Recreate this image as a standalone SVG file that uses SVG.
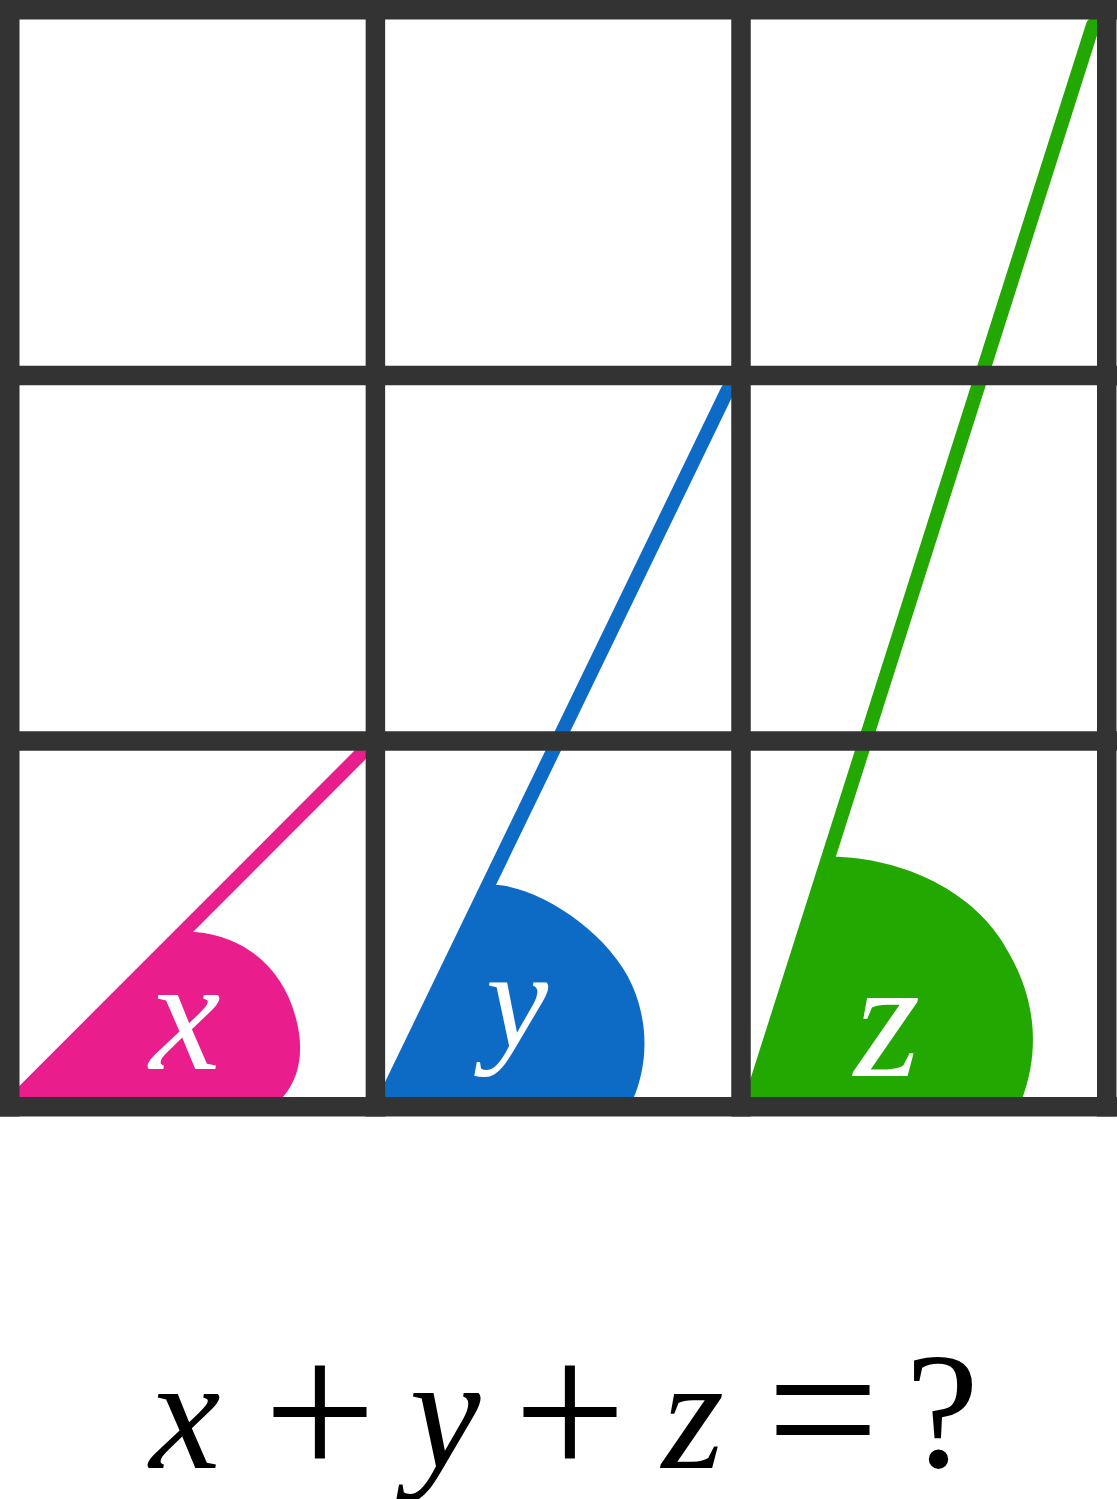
<svg xmlns="http://www.w3.org/2000/svg" width="1117" height="1499" viewBox="0 0 1117 1499">
<style>
.grid line{stroke:#333333;stroke-width:19.5;stroke-linecap:butt}
.conn line{stroke-width:14;stroke-linecap:round}
.lbl{fill:#ffffff;text-anchor:middle}
.eq{fill:#000000;text-anchor:middle}
</style>
<rect width="1117" height="1499" fill="#ffffff"/>
<g id="node-x">
<path d="M183.2,932 L195,932 C252,937 284,975 295,1015 C305,1048 300,1078 283,1097 L281,1100 L15.2,1100 Z" fill="#e91e8c"/>
<text class="lbl" x="185" y="1069" font-size="160" font-family="Liberation Serif, Times New Roman, serif" font-style="italic">x</text>
</g>
<g id="node-y">
<path d="M483.3,885 L499,885 C545,890 610,935 632,985 C649.6,1025 647,1065 634,1097 L632.5,1100 L384.1,1100 Z" fill="#0d6bc6"/>
<text class="lbl" x="517" y="1047" font-size="140" font-family="Liberation Serif, Times New Roman, serif" font-style="italic">y</text>
</g>
<g id="node-z">
<path d="M828.7,856.7 L838.3,856.7 C910,860 980,895 1010,955 C1038,1005 1038,1055 1022.7,1097 L1021.7,1100 L751.1,1100 Z" fill="#22a800"/>
<text class="lbl" x="887" y="1076" font-size="170" font-family="Liberation Serif, Times New Roman, serif" font-style="italic">z</text>
</g>
<g id="connectors" class="conn">
<line x1="10" y1="1105.2" x2="360" y2="755" stroke="#e91e8c"/>
<line x1="381.2" y1="1106" x2="727.7" y2="390" stroke="#0d6bc6"/>
<line x1="749.2" y1="1106" x2="1093" y2="25" stroke="#22a800"/>
</g>
<g id="grid" class="grid">
<line x1="9.75" y1="0" x2="9.75" y2="1116.5"/>
<line x1="375.4" y1="0" x2="375.4" y2="1116.5"/>
<line x1="741" y1="0" x2="741" y2="1116.5"/>
<line x1="1106.75" y1="0" x2="1106.75" y2="1116.5"/>
<line x1="0" y1="9.75" x2="1117" y2="9.75"/>
<line x1="0" y1="375.4" x2="1117" y2="375.4"/>
<line x1="0" y1="741" x2="1117" y2="741"/>
<line x1="0" y1="1106.75" x2="1117" y2="1106.75"/>
</g>
<g id="equation" class="eq" font-family="Liberation Serif, Times New Roman, serif">
<text x="185" y="1468" font-size="160" font-style="italic">x</text>
<text x="320" y="1478" font-size="200">+</text>
<text x="445" y="1468" font-size="160" font-style="italic">y</text>
<text x="570" y="1478" font-size="200">+</text>
<text x="693" y="1468" font-size="160" font-style="italic">z</text>
<text x="823" y="1476" font-size="200">=</text>
<text x="942" y="1467" font-size="165">?</text>
</g>
</svg>
